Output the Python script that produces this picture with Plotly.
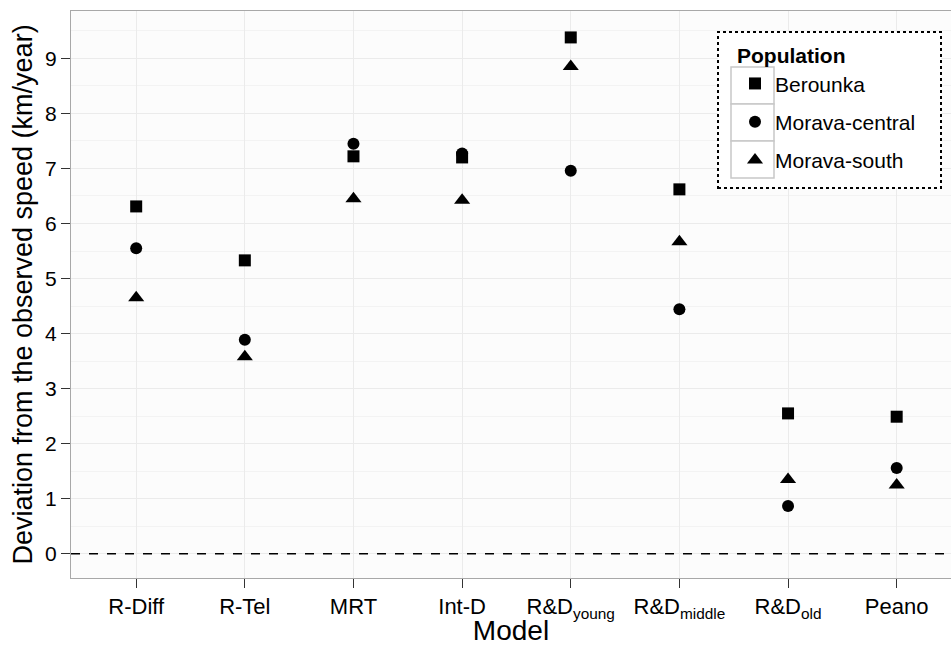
import plotly.graph_objects as go

models = ["R-Diff", "R-Tel", "MRT", "Int-D", "R&D<sub>young</sub>", "R&D<sub>middle</sub>", "R&D<sub>old</sub>", "Peano"]
berounka = [6.31, 5.33, 7.22, 7.20, 9.38, 6.62, 2.55, 2.49]
morava_central = [5.55, 3.89, 7.45, 7.27, 6.96, 4.44, 0.87, 1.56]
morava_south = [4.65, 3.58, 6.45, 6.42, 8.85, 5.67, 1.35, 1.25]

series = [
    ("Berounka", berounka, "square", 12),
    ("Morava-central", morava_central, "circle", 12),
    ("Morava-south", morava_south, "triangle-up", 14),
]

fig = go.Figure()
for name, vals, sym, sz in series:
    fig.add_trace(go.Scatter(
        x=models, y=vals, mode="markers", name=name, legendgroup=name,
        marker=dict(symbol=sym, size=sz, color="black", line=dict(width=0)),
    ))

fig.add_hline(y=0, line=dict(color="black", width=1.5, dash="dash"))

font = "Liberation Sans, Arial, sans-serif"
T, B, L = 11, 68, 71
H = 646 - T - B
W = 951 - L


def px(x):
    return (x - L) / W


def py(y):
    return (646 - B - y) / H


fig.update_layout(
    width=951, height=646,
    margin=dict(l=L, r=0, t=T, b=B),
    paper_bgcolor="white", plot_bgcolor="#FCFCFC",
    font=dict(family=font, color="black"),
    showlegend=True,
    legend=dict(
        title=dict(text="<b>Population</b>", font=dict(size=21)),
        font=dict(size=21), x=px(735), y=py(36), xanchor="left", yanchor="top",
        bgcolor="rgba(0,0,0,0)", borderwidth=0, tracegroupgap=8,
    ),
    xaxis=dict(
        title=dict(text="Model", font=dict(size=28), standoff=4),
        type="category", range=[-0.6, 7.5],
        showgrid=True, gridcolor="#EBEBEB", gridwidth=1,
        ticks="outside", ticklen=9, tickcolor="#333333",
        tickfont=dict(size=22),
        showline=True, linecolor="#A8A8A8", mirror=True, zeroline=False,
    ),
    yaxis=dict(
        title=dict(text="Deviation from the observed speed (km/year)", font=dict(size=27), standoff=4),
        range=[-0.44, 9.86], tickvals=list(range(10)),
        showgrid=True, gridcolor="#EBEBEB", gridwidth=1,
        minor=dict(dtick=0.5, tick0=0.5, showgrid=True, gridcolor="#F3F3F3", gridwidth=1),
        ticks="outside", ticklen=9, tickcolor="#333333",
        tickfont=dict(size=21),
        showline=True, linecolor="#A8A8A8", mirror=True, zeroline=False,
    ),
)

# legend frame (dotted) with white fill
fig.add_shape(type="rect", xref="paper", yref="paper",
              x0=px(718), x1=px(941), y0=py(188), y1=py(32),
              line=dict(color="black", width=2, dash="dot"), fillcolor="white")
# legend key boxes
for y0, y1 in [(67, 104), (104, 141), (141, 178)]:
    fig.add_shape(type="rect", xref="paper", yref="paper",
                  x0=px(731), x1=px(774), y0=py(y1), y1=py(y0),
                  line=dict(color="#C8C8C8", width=1.5), fillcolor="white")

fig.write_html("out.html")
